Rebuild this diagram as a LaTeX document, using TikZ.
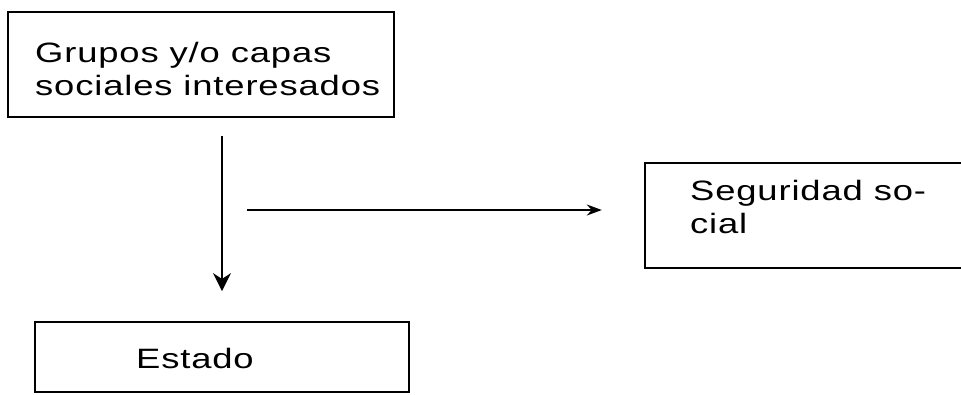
\documentclass[tikz,border=0pt]{standalone}
\usepackage{fontspec}
\setmainfont{Liberation Sans}[FakeStretch=1.3, LetterSpace=3]
\usetikzlibrary{arrows.meta}
\begin{document}
\begin{tikzpicture}[x=1pt,y=-1pt,
  box/.style={draw, rectangle, line width=1.8pt, inner sep=0pt},
  frame/.style={rectangle, inner sep=0pt},
  edge/.style={line width=1.8pt},
  lbl/.style={anchor=base west, inner sep=0pt, font=\fontsize{28}{33}\selectfont},
  link/.style={line width=1.6pt},
  bigtip/.style={-{Stealth[length=18pt,width=18pt]}},
  smalltip/.style={-{Stealth[length=15pt,width=11pt]}}]
\useasboundingbox (0,0) rectangle (961,394);
% box 1
\node[box, minimum width=386pt, minimum height=105pt] (grupos) at (201,64.5) {};
\node[lbl] (g1) at (35,62) {Grupos y/o capas};
\node[lbl] (g2) at (35,95) {sociales interesados};
% box 2 (open on the right)
\node[frame, minimum width=316pt, minimum height=105pt] (seg) at (803,215.5) {};
\draw[edge] (seg.north east) -- (seg.north west) -- (seg.south west) -- (seg.south east);
\node[lbl] (s1) at (690,200) {Seguridad so-};
\node[lbl] (s2) at (690,233) {cial};
% box 3
\node[box, minimum width=374pt, minimum height=70pt] (estado) at (222,357) {};
\node[lbl] (e1) at (136,368) {Estado};
% connectors
\draw[link, bigtip, shorten <=18pt, shorten >=30pt] (grupos.south -| estado.north) -- (estado.north);
\coordinate (hstart) at (247,210);
\draw[link, smalltip, shorten >=43pt] (hstart) -- (hstart -| seg.west);
\end{tikzpicture}
\end{document}
